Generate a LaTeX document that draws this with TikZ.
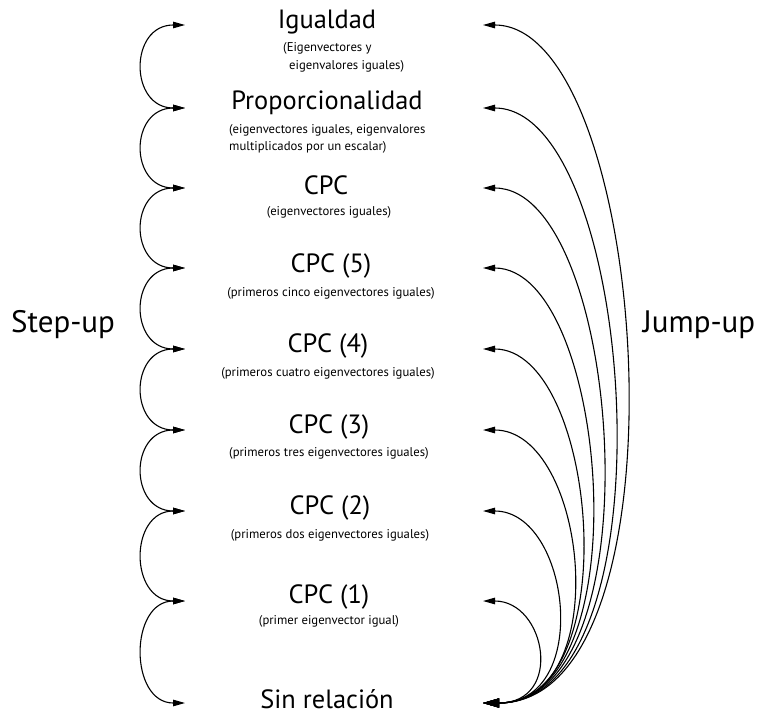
\documentclass[tikz,border=0pt]{standalone}
\usepackage{fontspec}
\setmainfont{PT Sans}
\usetikzlibrary{arrows.meta}
\begin{document}
\begin{tikzpicture}[x=1pt,y=-1pt,
  big/.style={font=\fontsize{26.4}{30}\selectfont, inner sep=0pt},
  small/.style={font=\fontsize{12.7}{15}\selectfont, inner sep=0pt},
  side/.style={font=\fontsize{31}{34}\selectfont, inner sep=0pt},
  tipa/.tip={Triangle[length=12pt,width=6.5pt]},
  tipb/.tip={Triangle[length=16pt,width=9pt]},
  stepar/.style={line width=1.1pt, {tipa}-{tipa}},
  jumpar/.style={line width=1.1pt, {tipb}-{tipa}}]
\useasboundingbox (0,0) rectangle (761,715);

% level titles and descriptions
\node[big] (igu) at (327,22) {Igualdad};
\node[small, anchor=west] (igud1) at (283,48) {(Eigenvectores y};
\node[small, anchor=west] (igud2) at (289,66) {eigenvalores iguales)};
\node[big] (prop) at (327,103) {Proporcionalidad};
\node[small, anchor=west] (propd1) at (229,130) {(eigenvectores iguales, eigenvalores};
\node[small, anchor=west] (propd2) at (229,147) {multiplicados por un escalar)};
\node[big] (cpc) at (326,185) {CPC};
\node[small] (cpcd) at (329,212) {(eigenvectores iguales)};
\node[big] (cpc5) at (331,266) {CPC (5)};
\node[small] (cpc5d) at (331,293) {(primeros cinco eigenvectores iguales)};
\node[big] (cpc4) at (328,346) {CPC (4)};
\node[small] (cpc4d) at (328,373) {(primeros cuatro eigenvectores iguales)};
\node[big] (cpc3) at (329,427) {CPC (3)};
\node[small] (cpc3d) at (329,453) {(primeros tres eigenvectores iguales)};
\node[big] (cpc2) at (330,508) {CPC (2)};
\node[small] (cpc2d) at (330,535) {(primeros dos eigenvectores iguales)};
\node[big] (cpc1) at (329,597) {CPC (1)};
\node[small] (cpc1d) at (329,621) {(primer eigenvector igual)};
\node[big] (sin) at (327,699) {Sin relación};

\node[side] (step) at (63,325) {Step-up};
\node[side] (jump) at (699,325) {Jump-up};

% arrow ends on the left (step-up) and right (jump-up)
\coordinate (L1) at (185,25);
\coordinate (L2) at (185,108);
\coordinate (L3) at (185,188);
\coordinate (L4) at (185,268);
\coordinate (L5) at (185,349);
\coordinate (L6) at (185,430);
\coordinate (L7) at (185,511);
\coordinate (L8) at (185,601);
\coordinate (L9) at (185,703);
\coordinate (R1) at (483,25);
\coordinate (R2) at (483,108);
\coordinate (R3) at (483,188);
\coordinate (R4) at (483,268);
\coordinate (R5) at (483,349);
\coordinate (R6) at (483,430);
\coordinate (R7) at (483,511);
\coordinate (R8) at (483,601);
\coordinate (R9) at (483,703);

% step-up arcs between neighbouring levels
\foreach \a/\b in {L1/L2,L2/L3,L3/L4,L4/L5,L5/L6,L6/L7,L7/L8,L8/L9}
  \draw[stepar] (\b) .. controls +(-56,0) and +(-56,0) .. (\a);

% jump-up arcs from the bottom level to every other level
\foreach \t/\a/\b in {R1/167/212,R2/153/194,R3/139/176,R4/125/160,
                      R5/114/145,R6/104/133,R7/87/110,R8/63/81}
  \draw[jumpar] (R9) .. controls +(\b,0) and +(\a,0) .. (\t);
\end{tikzpicture}
\end{document}
